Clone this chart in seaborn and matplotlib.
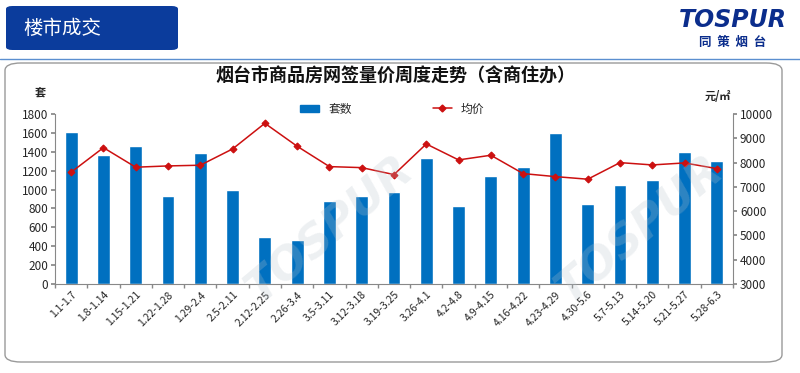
import numpy as np
import pandas as pd
import matplotlib
matplotlib.use("Agg")
import matplotlib.pyplot as plt
import seaborn as sns
from matplotlib.patches import FancyBboxPatch
from matplotlib.lines import Line2D

weeks = ["1.1-1.7", "1.8-1.14", "1.15-1.21", "1.22-1.28", "1.29-2.4", "2.5-2.11",
         "2.12-2.25", "2.26-3.4", "3.5-3.11", "3.12-3.18", "3.19-3.25", "3.26-4.1",
         "4.2-4.8", "4.9-4.15", "4.16-4.22", "4.23-4.29", "4.30-5.6", "5.7-5.13",
         "5.14-5.20", "5.21-5.27", "5.28-6.3"]
units = [1610, 1367, 1462, 933, 1385, 997, 497, 461, 884, 933, 979, 1332,
         831, 1142, 1237, 1602, 849, 1046, 1102, 1402, 1306]
prices = [7604, 8614, 7809, 7862, 7891, 8561, 9617, 8672, 7834, 7792, 7505, 8766,
          8109, 8302, 7546, 7422, 7315, 7998, 7903, 7985, 7751]

sns.set_theme(style="white")
plt.rcParams['font.family'] = ['Noto Sans CJK SC', 'DejaVu Sans']

df = pd.DataFrame({"week": weeks, "units": units, "price": prices})

fig = plt.figure(figsize=(8, 3.73), dpi=100)
W, H = 800, 373

def fx(x):
    return x / W

def fy(y):
    return 1 - y / H

# header
fig.patches.append(FancyBboxPatch((fx(6), fy(50)), fx(172), fy(6) - fy(50),
                                  boxstyle="round,pad=0,rounding_size=0.008",
                                  transform=fig.transFigure, facecolor="#0B3C9C",
                                  edgecolor="none"))
fig.text(fx(62), fy(28), "楼市成交", color="white", fontsize=14, ha="center", va="center")
fig.add_artist(Line2D([0, 1], [fy(59), fy(59)], transform=fig.transFigure,
                      color="#5B8FD0", lw=1))
fig.text(fx(733), fy(20), "TOSPUR", color="#0B2D8C", fontsize=17, fontweight="bold",
         fontstyle="italic", ha="center", va="center", family="DejaVu Sans")
fig.text(fx(733), fy(42), "同  策  烟  台", color="#0B2D8C", fontsize=9, fontweight="bold",
         ha="center", va="center")

# chart frame
fig.patches.append(FancyBboxPatch((fx(5), fy(362)), fx(777), fy(63) - fy(362),
                                  boxstyle="round,pad=0,rounding_size=0.02",
                                  transform=fig.transFigure, facecolor="none",
                                  edgecolor="#9A9A9A", lw=1))

# faint watermark
for (x, y) in [(330, 230), (640, 230)]:
    fig.text(fx(x), fy(y), "TOSPUR", color="#B8C4CC", alpha=0.25, fontsize=32,
             fontweight="bold", fontstyle="italic", rotation=40,
             ha="center", va="center", family="DejaVu Sans", zorder=0)

ax = fig.add_axes([fx(55), fy(284), fx(733 - 55), fy(114) - fy(284)])
ax.patch.set_alpha(0)
sns.barplot(data=df, x="week", y="units", color="#0070C0", width=0.4,
            saturation=1, ax=ax, zorder=2)
ax.set_ylim(0, 1800)
ax.set_yticks(np.arange(0, 1801, 200))
ax.set_xlim(-0.5, len(weeks) - 0.5)
ax.set_xlabel("")
ax.set_ylabel("")
ax.set_xticks(np.arange(-0.5, len(weeks), 1), minor=True)
ax.set_xticks(range(len(weeks)))
ax.set_xticklabels(weeks, rotation=45, ha="right", rotation_mode="anchor", fontsize=7.5)
ax.tick_params(axis="x", which="major", length=0, pad=4)
ax.tick_params(axis="x", which="minor", length=3, color="#888888", direction="out", bottom=True)
ax.tick_params(axis="y", length=3, color="#888888", direction="out", left=True, labelsize=8.5, pad=2)
for s in ["top", "right"]:
    ax.spines[s].set_visible(False)
for s in ["left", "bottom"]:
    ax.spines[s].set_color("#888888")
    ax.spines[s].set_linewidth(0.8)

ax2 = ax.twinx()
sns.pointplot(data=df, x="week", y="price", color="#CC1010", markers="D",
              markersize=3.5, linewidth=1.1, ax=ax2)
if ax2.get_legend() is not None:
    ax2.get_legend().remove()
ax2.set_ylim(3000, 10000)
ax2.set_yticks(np.arange(3000, 10001, 1000))
ax2.set_xlim(-0.5, len(weeks) - 0.5)
ax2.set_ylabel("")
ax2.set_xlabel("")
ax2.tick_params(axis="y", length=3, color="#888888", direction="out", right=True, labelsize=8.5, pad=2)
for s in ["top", "left", "bottom"]:
    ax2.spines[s].set_visible(False)
ax2.spines["right"].set_color("#888888")
ax2.spines["right"].set_linewidth(0.8)

fig.text(fx(395), fy(76), "烟台市商品房网签量价周度走势（含商住办）", fontsize=13,
         fontweight="bold", ha="center", va="center", color="#111111")
fig.text(fx(40), fy(92), "套", fontsize=8, fontweight="bold", ha="center", va="center")
fig.text(fx(718), fy(97), "元/㎡", fontsize=8, fontweight="bold", ha="center", va="center")

# legend
handles = [plt.Rectangle((0, 0), 1, 1, color="#0070C0"),
           Line2D([0], [0], color="#CC1010", marker="D", markersize=3.5, lw=1.1)]
fig.legend(handles[:1], ["套数"], loc="center left", bbox_to_anchor=(fx(295), fy(109)),
           frameon=False, fontsize=8.5, handlelength=1.6, handleheight=0.5, borderaxespad=0)
fig.legend(handles[1:], ["均价"], loc="center left", bbox_to_anchor=(fx(428), fy(109)),
           frameon=False, fontsize=8.5, handlelength=1.6, borderaxespad=0)

fig.savefig("out.png", dpi=100)
